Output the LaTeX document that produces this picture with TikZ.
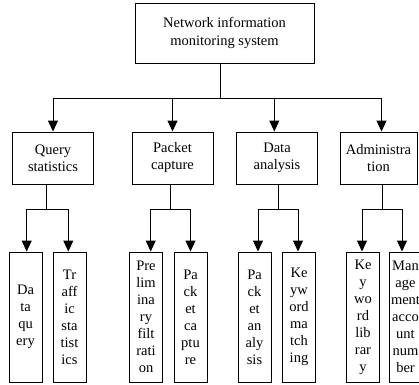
\documentclass[tikz,border=0pt]{standalone}
\usepackage{fontspec}
\setmainfont{Liberation Serif}
\usetikzlibrary{arrows.meta}
\begin{document}
\begin{tikzpicture}[x=1pt,y=-1pt,
  line width=0.95pt,
  box/.style={draw, rectangle, inner sep=0pt, align=center,
    font=\fontsize{14.5}{17}\selectfont},
  rootbox/.style={box, minimum width=179pt, minimum height=60pt,
    font=\fontsize{14.5}{18.5}\selectfont},
  midbox/.style={box, minimum width=81pt, minimum height=52pt},
  leafbox/.style={box, minimum width=33pt, minimum height=130pt},
  flow/.style={-{Triangle[width=10pt,length=11pt]}}]
\useasboundingbox (0,0) rectangle (419,384);
\clip (0,0) rectangle (419,384);

% root
\node[rootbox] (root) at (224.5,33) {Network information\\monitoring system};

% second level
\node[midbox] (q) at (53,158) {Query\\statistics};
\node[midbox] (p) at (172.5,158) {Packet\\capture};
\node[midbox] (d) at (277,158) {Data\\analysis};
\node[midbox, minimum width=77pt] (a) at (378.5,158) {Administra\\tion};

% leaves
\node[leafbox] (dq) at (25.5,317) {Da\\ta\\qu\\ery};
\node[leafbox] (ts) at (69.5,317) {Tr\\aff\\ic\\sta\\tist\\ics};
\node[leafbox] (pf) at (146,317) {Pre\\lim\\ina\\ry\\filt\\rati\\on};
\node[leafbox] (pc) at (190.5,317) {Pa\\ck\\et\\ca\\ptu\\re};
\node[leafbox] (pa) at (254.5,317) {Pa\\ck\\et\\an\\aly\\sis};
\node[leafbox] (km) at (299,317) {Ke\\yw\\ord\\ma\\tch\\ing};
\node[leafbox] (kl) at (363,317) {Ke\\y\\wo\\rd\\lib\\rar\\y};
\node[leafbox] (ma) at (405.5,317) {Man\\age\\ment\\acco\\unt\\num\\ber};

% root to second level
\draw ([xshift=-3.8pt]root.south) -- ++(0,34.7) coordinate (hub);
\coordinate (dIn) at ([xshift=-2.7pt]d.north);
\coordinate (aIn) at ([xshift=3pt]a.north);
\draw[flow] (hub) -| (q.north);
\draw[flow] (hub) -| (aIn);
\draw[flow] (hub -| p.north) -- (p.north);
\draw[flow] (hub -| dIn) -- (dIn);

% query statistics
\draw ([xshift=-6.3pt]q.south) -- ++(0,25) coordinate (qhub);
\draw[flow] (qhub) -| ([xshift=1.2pt]dq.north);
\draw[flow] (qhub) -| ([xshift=-1.2pt]ts.north);

% packet capture
\draw ([xshift=-2.5pt]p.south) -- ++(0,25) coordinate (phub);
\draw[flow] (phub) -| ([xshift=4.7pt]pf.north);
\draw[flow] (phub) -| (pc.north);

% data analysis
\draw ([xshift=1pt]d.south) -- ++(0,25) coordinate (dhub);
\draw[flow] (dhub) -| ([xshift=3.5pt]pa.north);
\draw[flow] (dhub) -| ([xshift=-1pt]km.north);

% administration
\draw ([xshift=3.5pt]a.south) -- ++(0,25) coordinate (ahub);
\draw[flow] (ahub) -| ([xshift=-1pt]kl.north);
\draw[flow] (ahub) -| ([xshift=-3.5pt]ma.north);
\end{tikzpicture}
\end{document}
